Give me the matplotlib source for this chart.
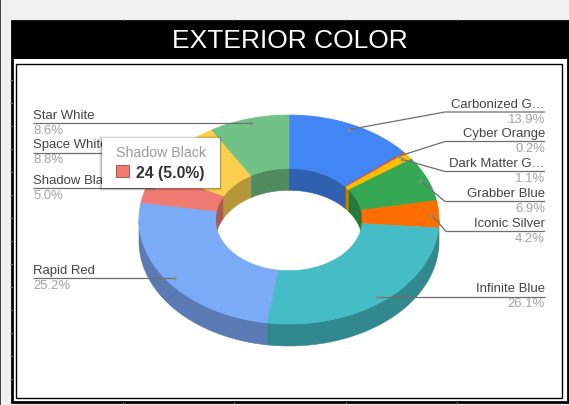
import numpy as np
import matplotlib
matplotlib.use('Agg')
import matplotlib.pyplot as plt
from matplotlib.patches import Rectangle, Polygon

plt.rcParams['font.family'] = ['Liberation Sans', 'DejaVu Sans']

# clockwise from 12 o'clock
names = ['Carbonized G…', 'Cyber Orange', 'Dark Matter G…', 'Grabber Blue', 'Iconic Silver',
         'Infinite Blue', 'Rapid Red', 'Shadow Black', 'Space White', 'Star White']
percents = [13.9, 0.2, 1.1, 6.9, 4.2, 26.1, 25.2, 5.0, 8.8, 8.6]
colors = ['#4285f4', '#ea4335', '#fbbc04', '#34a853', '#ff6d01',
          '#46bdc6', '#7baaf7', '#f07b72', '#fcd04f', '#71c287']
tooltip_name = 'Shadow Black'
tooltip_value = '24 (5.0%)'

# pie geometry, in pixels
cx, cy = 289, 220.5
rx, ry = 150, 104.5
hole = 0.49
depth = 22
shade = 0.72

# elbow x and label line y for each slice (None = straight line)
elbow_x = [445, 445, 445, 445, 446, None, None, None, None, None]
line_y = [113, 142.5, 172.5, 202.5, 232.5, 297.5, 279, 189, 153.5, 124]
side = ['r', 'r', 'r', 'r', 'r', 'r', 'l', 'l', 'l', 'l']

fig = plt.figure(figsize=(5.69, 4.06), dpi=100, facecolor='#f1f1f1')
ax = fig.add_axes([0, 0, 1, 1])
ax.set_xlim(0, 569)
ax.set_ylim(406, 0)
ax.axis('off')


def ell(t, r=1.0, dy=0.0):
    return np.column_stack((cx + rx * r * np.sin(t), cy - ry * r * np.cos(t) + dy))


def darker(c):
    return tuple(v * shade for v in matplotlib.colors.to_rgb(c))


# page frame
ax.add_patch(Rectangle((0, 0), 1.5, 406, color='#444444', lw=0, zorder=0))
ax.add_patch(Rectangle((12, 22), 556, 381, fc='white', ec='black', lw=2, zorder=1))
ax.add_patch(Rectangle((12, 22), 556, 38, color='black', lw=0, zorder=2))
ax.add_patch(Rectangle((16, 65), 546, 334, fc='white', ec='black', lw=1, zorder=2))
ax.text(290, 41.5, 'EXTERIOR COLOR', color='white', fontsize=19, ha='center', va='center', zorder=3)

# small sheet grid ticks round the frame
for x in [123, 234, 346, 457]:
    ax.plot([x, x], [20, 22], color='#888888', lw=0.6, zorder=1)
    ax.plot([x, x], [403, 406], color='#888888', lw=0.6, zorder=1)
for y in [81, 104, 127, 150, 173, 196, 219, 242, 265, 288, 311, 334, 357, 380]:
    ax.plot([10, 12], [y, y], color='#888888', lw=0.6, zorder=1)

edges = np.cumsum([0] + percents) / sum(percents) * 2 * np.pi
mids = (edges[:-1] + edges[1:]) / 2

# walls first, then the top face over them
for i, c in enumerate(colors):
    a, b = edges[i], edges[i + 1]
    # outer wall, front half only
    a2, b2 = max(a, np.pi / 2), min(b, 3 * np.pi / 2)
    if b2 > a2:
        t = np.linspace(a2, b2, 80)
        pts = np.vstack((ell(t), ell(t[::-1], dy=depth)))
        ax.add_patch(Polygon(pts, fc=darker(c), ec=darker(c), lw=0.4, zorder=4))
    # inner wall, back half only
    for a2, b2 in [(a, min(b, np.pi / 2)), (max(a, 3 * np.pi / 2), b)]:
        if b2 > a2:
            t = np.linspace(a2, b2, 60)
            pts = np.vstack((ell(t, hole), ell(t[::-1], hole, dy=depth)))
            ax.add_patch(Polygon(pts, fc=darker(c), ec=darker(c), lw=0.4, zorder=4))

for i, c in enumerate(colors):
    t = np.linspace(edges[i], edges[i + 1], 120)
    pts = np.vstack((ell(t), ell(t[::-1], hole)))
    ax.add_patch(Polygon(pts, fc=c, ec=c, lw=0.5, zorder=5))

# leader lines and labels
for i, name in enumerate(names):
    px, py = ell(np.array([mids[i]]), 0.95)[0]
    y = line_y[i]
    if side[i] == 'r':
        xs = [px, elbow_x[i], 545] if elbow_x[i] else [px, 545]
        ys = [py, y, y] if elbow_x[i] else [y, y]
        tx, ha = 545, 'right'
    else:
        xs, ys = [px, 33], [y, y]
        tx, ha = 33.5, 'left'
    ax.plot(xs, ys, color='#6e6e6e', lw=0.9, zorder=6, solid_capstyle='butt')
    ax.plot([px], [ys[0]], 'o', color='#8a8a8a', ms=2.6, mew=0, zorder=6)
    ax.text(tx, y - 2, name, color='#444444', fontsize=9.45, ha=ha, va='bottom', zorder=6)
    ax.text(tx, y + 1, '%.1f%%' % percents[i], color='#a3a3a3', fontsize=9.45, ha=ha, va='top', zorder=6)

# tooltip on the Shadow Black slice
for grow, alpha in [(2.5, 0.06), (1.5, 0.1), (0.7, 0.14)]:
    ax.add_patch(Rectangle((102 - grow, 139 - grow + 0.7), 118 + 2 * grow, 50 + 2 * grow,
                           color='black', alpha=alpha, lw=0, zorder=7))
ax.add_patch(Rectangle((102, 139), 118, 50, color='white', lw=0, zorder=8))
ax.text(116, 153.5, tooltip_name, color='#9a9a9a', fontsize=10.2, ha='left', va='center', zorder=9)
ax.add_patch(Rectangle((116.5, 165.5), 12.5, 12.5, fc=colors[names.index(tooltip_name)],
                       ec='#a85650', lw=0.7, zorder=9))
ax.text(136, 173.5, tooltip_value, color='#333333', fontsize=11.3, fontweight='bold', ha='left', va='center', zorder=9)

fig.savefig('out.png', dpi=100, facecolor=fig.get_facecolor())
